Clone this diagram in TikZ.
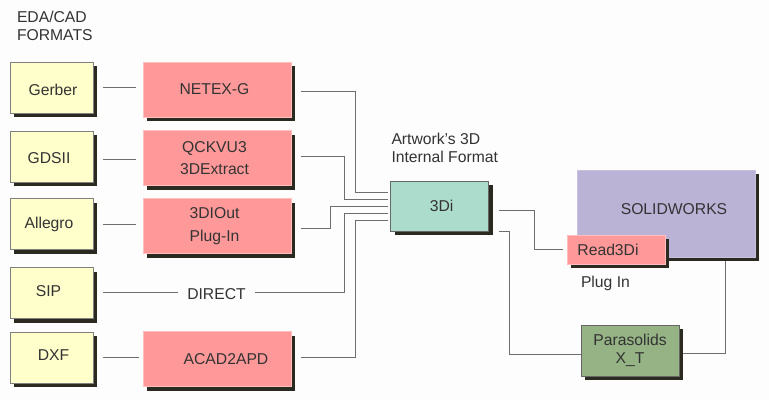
\documentclass[tikz,border=0pt]{standalone}
\usepackage{fontspec}
\setmainfont{Liberation Sans}
\usetikzlibrary{shadows,positioning}
\definecolor{pagebg}{HTML}{FDFDFD}
\definecolor{shadowcol}{HTML}{2A2A20}
\definecolor{linecol}{HTML}{6E6E6E}
\definecolor{inkcol}{HTML}{333333}
\definecolor{formatcol}{HTML}{FFFFCC}
\definecolor{toolcol}{HTML}{FF9999}
\definecolor{tdicol}{HTML}{ACDCCC}
\definecolor{solidcol}{HTML}{BBB3D6}
\definecolor{paracol}{HTML}{95B384}
\tikzset{
	box/.style={draw, rectangle, line width=0.8pt, inner sep=0pt, outer sep=0pt, align=center, text=inkcol, font=\fontsize{15.7}{22.5}\selectfont,
		drop shadow={shadow xshift=4pt, shadow yshift=-4pt, fill=shadowcol, opacity=1}},
	format/.style={box, draw=black!50, fill=formatcol, minimum width=83pt, minimum height=51pt},
	tool/.style={box, draw=red!25, fill=toolcol, minimum width=148pt, minimum height=55pt},
	link/.style={draw=linecol, line width=1pt},
	label/.style={inner sep=0pt, outer sep=0pt, align=left, text=inkcol, font=\fontsize{15.7}{18}\selectfont},
}
\begin{document}
\begin{tikzpicture}[x=1pt, y=-1pt]
	\path[use as bounding box, fill=pagebg] (0,0) rectangle (769,400);
	\node[label, anchor=west] (edacad) at (17,26) {EDA/CAD\\FORMATS};
	\node[label, anchor=west] (artwork) at (391.5,148) {Artwork's 3D\\Internal Format};
	\node[label, anchor=west] (plugin) at (581,283.5) {Plug In};
	\node[format] (gerber) at (51.5,87.75) {\hspace*{3pt}\raisebox{0pt}[15pt][0pt]{Gerber}};
	\node[format] (gdsii) at (51.5,156.5) {\raisebox{0pt}[14pt][0pt]{GDSII}\hspace*{5pt}};
	\node[format] (allegro) at (51.5,224) {Allegro\hspace*{5pt}};
	\node[format] (sip) at (51.5,293) {\raisebox{4pt}{SIP}\hspace*{6pt}};
	\node[format] (dxf) at (51.5,357.5) {\hspace*{4pt}\raisebox{4pt}{DXF}};
	\node[tool] (netex) at (217,89.5) {NETEX-G\hspace*{5pt}};
	\node[tool] (qckvu) at (217,158) {QCKVU3\hspace*{5pt}\\3DExtract\hspace*{5pt}};
	\node[tool] (tdiout) at (217,226) {3DIOut\hspace*{5pt}\\Plug-In\hspace*{5pt}};
	\node[tool] (acad) at (217,359) {\hspace*{18pt}ACAD2APD};
	\node[label, align=center, minimum width=77pt] (direct) at (216.5,294) {DIRECT};
	\node[box, draw=black!60, fill=tdicol, minimum width=98pt, minimum height=50pt] (tdi) at (439.7,206) {\hspace*{4pt}3Di};
	\node[box, draw=solidcol!80!white, fill=solidcol, minimum width=178pt, minimum height=87pt] (solid) at (666,213.5) {\hspace*{16pt}\raisebox{8pt}{SOLIDWORKS}};
	\node[box, draw=red!25, fill=toolcol, minimum width=98pt, minimum height=29pt] (read) at (616,249.5) {Read3Di\hspace*{16pt}};
	\node[box, draw=black!60, fill=paracol, minimum width=98pt, minimum height=51pt, font=\fontsize{15.7}{18}\selectfont] (para) at (630,350.5) {Parasolids\\X\_T};
	\draw[link, shorten <=10pt, shorten >=7pt] (gerber.east |- 0,87.5) -- (netex.west |- 0,87.5);
	\draw[link, shorten <=10pt, shorten >=7pt] (gdsii.east |- 0,159.5) -- (qckvu.west |- 0,159.5);
	\draw[link, shorten <=10pt, shorten >=7pt] (allegro.east |- 0,224.3) -- (tdiout.west |- 0,224.3);
	\draw[link, shorten <=10pt] (sip.east |- 0,292.7) -- (direct.west |- 0,292.7);
	\draw[link, shorten <=10pt, shorten >=3.7pt] (dxf.east |- 0,357.3) -- (acad.west |- 0,357.3);
	\draw[link, shorten <=10pt, shorten >=3.2pt] (netex.east |- 0,91) -- ++(64,0) |- (tdi.west |- 0,192);
	\draw[link, shorten <=10pt, shorten >=3.2pt] (qckvu.east |- 0,156) -- ++(53.3,0) |- (tdi.west |- 0,199.5);
	\draw[link, shorten <=10pt, shorten >=3.2pt] (tdiout.east |- 0,228) -- ++(39,0) |- (tdi.west |- 0,206.5);
	\draw[link, shorten >=3.2pt] (direct.east |- 0,292.7) -- ++(89.3,0) |- (tdi.west |- 0,213.7);
	\draw[link, shorten <=10pt, shorten >=3.2pt] (acad.east |- 0,357.5) -- ++(64,0) |- (tdi.west |- 0,220.7);
	\draw[link, shorten <=10.3pt, shorten >=4pt] (tdi.east |- 0,210) -- ++(46,0) |- (read.west |- 0,249.3);
	\draw[link, shorten <=10.3pt] (tdi.east |- 0,231.3) -- ++(20.6,0) |- (para.west |- 0,354.7);
	\draw[link, shorten <=3.7pt, shorten >=4pt] (para.east |- 0,353.3) -| (solid.south -| 725.7,0);
\end{tikzpicture}
\end{document}
